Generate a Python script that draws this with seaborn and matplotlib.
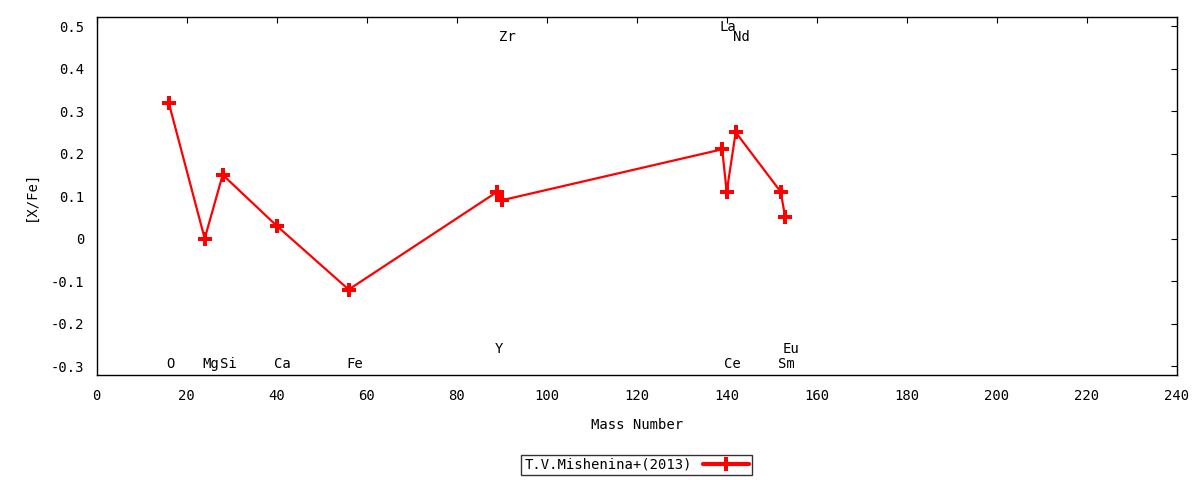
import matplotlib
matplotlib.use("Agg")
import matplotlib.pyplot as plt
import seaborn as sns
import pandas as pd

# ---- data ----
elements = ["O", "Mg", "Si", "Ca", "Fe", "Y", "Zr", "La", "Ce", "Nd", "Sm", "Eu"]
mass = [16, 24, 28, 40, 56, 89, 90, 139, 140, 142, 152, 153]
xfe = [0.32, 0.00, 0.15, 0.03, -0.12, 0.11, 0.09, 0.21, 0.11, 0.25, 0.11, 0.05]
label_y = [-0.294, -0.294, -0.294, -0.294, -0.294, -0.261, 0.475, 0.497, -0.294, 0.475, -0.294, -0.261]
series_name = "T.V.Mishenina+(2013)"
x_ticks = [0, 20, 40, 60, 80, 100, 120, 140, 160, 180, 200, 220, 240]
y_ticks = [-0.3, -0.2, -0.1, 0, 0.1, 0.2, 0.3, 0.4, 0.5]

df = pd.DataFrame({"mass": mass, "xfe": xfe, "element": elements})

sns.set_style("white")
plt.rcParams["font.family"] = ["DejaVu Sans Mono", "DejaVu Sans"]
plt.rcParams["axes.unicode_minus"] = False
plt.rcParams["text.color"] = "black"
plt.rcParams["axes.labelcolor"] = "black"
plt.rcParams["xtick.color"] = "black"
plt.rcParams["ytick.color"] = "black"

fig = plt.figure(figsize=(12, 4.8), dpi=100)
ax = fig.add_axes([96.7 / 1200, 1 - 375 / 480, (1176.7 - 96.7) / 1200, (375 - 17.3) / 480])

sns.lineplot(data=df, x="mass", y="xfe", sort=False, estimator=None, ax=ax,
             color="red", linewidth=1.6, marker="P", markersize=9.5,
             markeredgewidth=0, label=series_name)

for el, m, ly in zip(elements, mass, label_y):
    ax.annotate(el, xy=(m, ly), xytext=(-2.5, 0), textcoords="offset pixels",
                ha="left", va="center", fontsize=10, color="black")

ax.set_xlim(0, 240)
ax.set_ylim(-0.321, 0.5205)
ax.set_xticks(x_ticks)
ax.set_yticks(y_ticks)
ax.set_xticklabels([f"{v:g}" for v in x_ticks])
ax.set_yticklabels([f"{v:g}" for v in y_ticks])
ax.tick_params(direction="in", length=4.5, width=0.8, top=True, right=True,
               labelsize=10, colors="black")
ax.tick_params(axis="x", pad=10)
ax.tick_params(axis="y", pad=9)
for s in ax.spines.values():
    s.set_color("black")
    s.set_linewidth(1.0)

ax.set_xlabel("Mass Number", fontsize=10, color="black")
ax.set_ylabel("[X/Fe]", fontsize=10, color="black")
ax.xaxis.set_label_coords(0.5, -(425 - 375) / 357.7)
ax.xaxis.label.set_va("center")
ax.yaxis.set_label_coords((31 - 96.7) / 1080, 0.5)
ax.yaxis.label.set_va("center")

handles, labels = ax.get_legend_handles_labels()
ax.get_legend().remove()
leg = fig.legend(handles, labels, loc="center", bbox_to_anchor=(636.5 / 1200, 1 - 465 / 480),
                 markerfirst=False, frameon=True, fancybox=False, fontsize=10,
                 handlelength=3.3, borderpad=0.25, handletextpad=0.8, borderaxespad=0)
leg.get_frame().set_edgecolor("black")
leg.get_frame().set_linewidth(1.0)
for t in leg.get_texts():
    t.set_color("black")
for h in leg.legend_handles:
    h.set_linewidth(3)

fig.savefig("out.png", dpi=100)
